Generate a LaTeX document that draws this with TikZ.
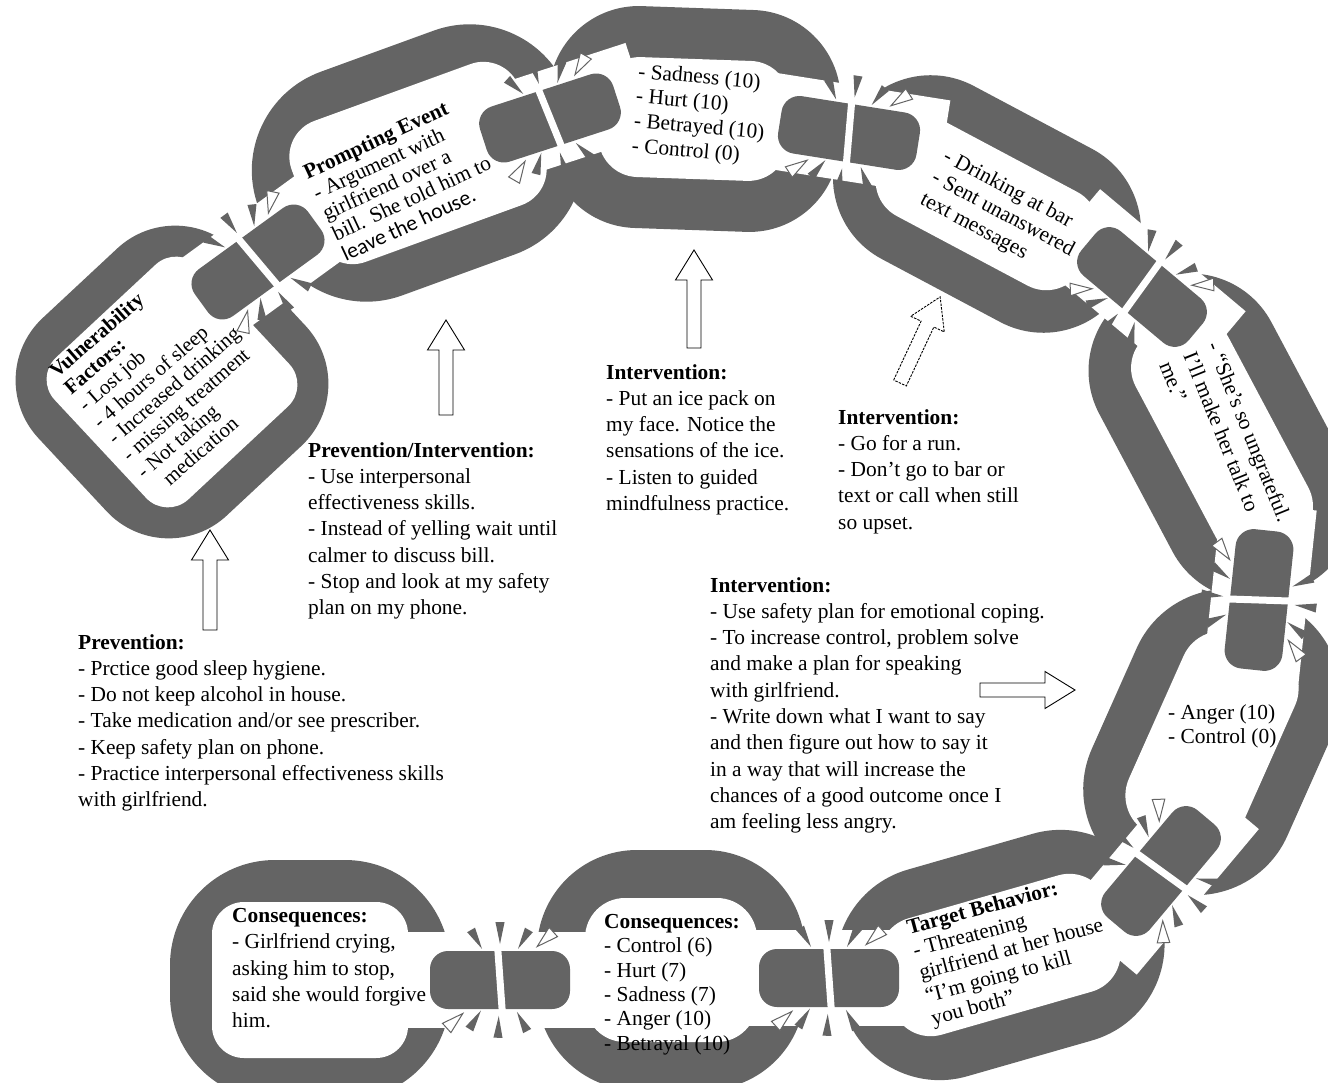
\documentclass[tikz,border=0pt]{standalone}
\usepackage{fontspec}
\setmainfont{Liberation Serif}
\newfontfamily\carlito{Carlito}
\definecolor{linkgray}{RGB}{100,100,100}
\tikzset{
  txt/.style={font=\fontsize{21.4}{26.3}\selectfont, align=left, inner sep=0pt, anchor=north west},
  arrowbox/.style={draw=black, fill=white, line width=0.9pt, line join=miter},
}
% chain link: cx, cy, rotation, outer length, outer width, outer radius, thickness, inner radius
\newcommand\clink[8]{%
  \begin{scope}[shift={(#1,#2)},rotate=#3]
    \fill[linkgray,rounded corners=#6pt] ({-#4/2},{-#5/2}) rectangle ({#4/2},{#5/2});
    \fill[white,rounded corners=#8pt] ({-#4/2+#7},{-#5/2+#7}) rectangle ({#4/2-#7},{#5/2-#7});
  \end{scope}}
% white opening at a joint
\newcommand\jgap[3]{%
  \begin{scope}[shift={(#1,#2)},rotate=#3]
    \fill[white] (-95,-48) rectangle (95,48);
  \end{scope}}
% broken bar at a joint
\newcommand\jbar[3]{%
  \begin{scope}[shift={(#1,#2)},rotate=#3]
    \fill[linkgray,rounded corners=18pt] (-70,-29) rectangle (70,29);
    \draw[white,line width=7pt] (-3,-42) -- (3,42);
  \end{scope}}
% burst spikes at a joint
\newcommand\jburst[3]{%
  \begin{scope}[shift={(#1,#2)},rotate=#3]
    \foreach \a in {62,92,122,-60,-90,-120}{
      \fill[linkgray] ({\a-4.5}:58) -- (\a:36) -- ({\a+4.5}:58) -- cycle;}
    \foreach \a in {138,-42}{
      \filldraw[fill=white,draw=linkgray,line width=1pt] ({\a-5}:72) -- (\a:50) -- ({\a+5}:72) -- cycle;}
  \end{scope}}
% hollow block arrow: tail x, tail y, angle, length
\newcommand\barrow[5][]{%
  \begin{scope}[shift={(#2,#3)},rotate=#4]
    \path[arrowbox,#1] (0,-7) -- ({#5-30},-7) -- ({#5-30},-18.5) -- (#5,0) -- ({#5-30},18.5) -- ({#5-30},7) -- (0,7) -- cycle;
  \end{scope}}
\begin{document}
\begin{tikzpicture}[x=1pt,y=-1pt]
\useasboundingbox (0,0) rectangle (1328,1083);
\clip (0,0) rectangle (1328,1083);
\fill[white] (0,0) rectangle (1328,1083);

% links
\clink{172}{382}{43}{272}{270}{85}{38}{30}
\clink{418}{163}{20}{330}{238}{105}{44}{38}
\clink{694}{119}{-2}{292}{222}{90}{51}{40}
\clink{987}{204}{-28}{318}{196}{92}{45}{40}
\clink{1222}{437}{-62}{340}{195}{92}{45}{40}
\clink{1212}{742}{66}{310}{214}{100}{46}{42}
\clink{1000}{955}{16}{330}{215}{100}{47}{40}
\clink{671}{970}{0}{268}{240}{100}{48}{40}
\clink{310}{980}{0}{280}{240}{105}{42}{32}

% openings
\jgap{258}{262}{36}
\jgap{550}{118}{18}
\jgap{849}{133}{-9}
\jgap{1142}{287}{-40}
\jgap{1259}{600}{84}
\jgap{1161}{871}{50}
\jgap{829}{978}{0}
\jgap{500}{980}{0}

% bars
\jbar{258}{262}{36}
\jbar{550}{118}{18}
\jbar{849}{133}{-9}
\jbar{1142}{287}{-40}
\jbar{1259}{600}{84}
\jbar{1161}{871}{50}
\jbar{829}{978}{0}
\jbar{500}{980}{0}

% bursts
\jburst{258}{262}{36}
\jburst{550}{118}{18}
\jburst{849}{133}{-9}
\jburst{1142}{287}{-40}
\jburst{1259}{600}{84}
\jburst{1161}{871}{50}
\jburst{829}{978}{0}
\jburst{500}{980}{0}

% block arrows
\barrow{210}{630}{90}{100}
\barrow{446}{415}{90}{95}
\barrow{694}{348}{90}{98}
\barrow[dash pattern=on 2.5pt off 1.2pt]{900}{383}{65}{95}
\barrow{980}{690}{0}{95}

% texts in links
\node[txt, font=\fontsize{20.8}{22.2}\selectfont, rotate=41] (vuln) at (47,368)
  {\textbf{Vulnerability}\\\textbf{Factors:}\\- Lost job\\- 4 hours of sleep\\- Increased drinking\\- missing treatment\\- Not taking\\\hspace*{15pt}medication};
\node[txt, font=\fontsize{21.4}{22.7}\selectfont, rotate=25] (prompt) at (301,166)
  {\textbf{Prompting Event}\\- Argument with\\girlfriend over a\\bill. She told him to\\{\carlito\fontsize{21.8}{22.7}\selectfont leave the house.}};
\node[txt, font=\fontsize{21.4}{24.8}\selectfont, rotate=-5] (feel1) at (639,63)
  {- Sadness (10)\\- Hurt (10)\\- Betrayed (10)\\- Control (0)};
\node[txt, font=\fontsize{21.4}{24.4}\selectfont, rotate=-28] (drink) at (949,147)
  {- Drinking at bar\\- Sent unanswered\\text messages};
\node[txt, font=\fontsize{21.4}{25.8}\selectfont, rotate=-68] (thought) at (1221,340)
  {- “She’s so ungrateful.\\I’ll make her talk to\\me.”};
\node[txt, font=\fontsize{21.4}{24}\selectfont] (feel2) at (1168,704)
  {- Anger (10)\\- Control (0)};
\node[txt, font=\fontsize{21.4}{23.5}\selectfont, rotate=15] (target) at (905,920)
  {\textbf{Target Behavior:}\\- Threatening\\girlfriend at her house\\“I’m going to kill\\you both”};
\node[txt, font=\fontsize{21.4}{24.4}\selectfont] (cons2) at (604,914)
  {\textbf{Consequences:}\\- Control (6)\\- Hurt (7)\\- Sadness (7)\\- Anger (10)\\- Betrayal (10)};
\node[txt, font=\fontsize{21.4}{26.4}\selectfont] (cons1) at (232,908)
  {\textbf{Consequences:}\\- Girlfriend crying,\\asking him to stop,\\said she would forgive\\him.};

% free texts
\node[txt] (prev) at (78,634)
  {\textbf{Prevention:}\\- Prctice good sleep hygiene.\\- Do not keep alcohol in house.\\- Take medication and/or see prescriber.\\- Keep safety plan on phone.\\- Practice interpersonal effectiveness skills\\with girlfriend.};
\node[txt] (prevint) at (308,442)
  {\textbf{Prevention/Intervention:}\\- Use interpersonal\\effectiveness skills.\\- Instead of yelling wait until\\calmer to discuss bill.\\- Stop and look at my safety\\plan on my phone.};
\node[txt] (int1) at (606,364)
  {\textbf{Intervention:}\\- Put an ice pack on\\my face. Notice the\\sensations of the ice.\\- Listen to guided\\mindfulness practice.};
\node[txt] (int2) at (838,409)
  {\textbf{Intervention:}\\- Go for a run.\\- Don’t go to bar or\\text or call when still\\so upset.};
\node[txt] (int3) at (710,577)
  {\textbf{Intervention:}\\- Use safety plan for emotional coping.\\- To increase control, problem solve\\and make a plan for speaking\\with girlfriend.\\- Write down what I want to say\\and then figure out how to say it\\in a way that will increase the\\chances of a good outcome once I\\am feeling less angry.};
\end{tikzpicture}
\end{document}
